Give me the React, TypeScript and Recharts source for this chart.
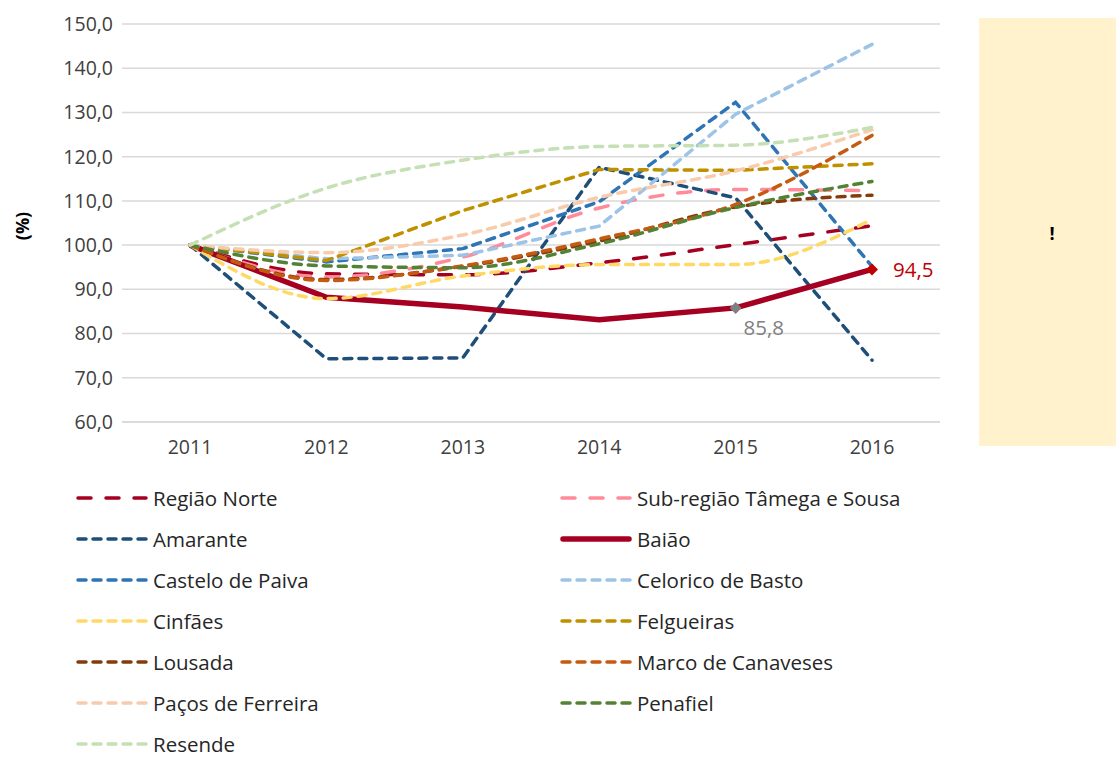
import React from "react";
import { LineChart, Line, XAxis, YAxis, CartesianGrid, LabelList } from "recharts";

const years = ["2011", "2012", "2013", "2014", "2015", "2016"];
const yTicks = [60, 70, 80, 90, 100, 110, 120, 130, 140, 150];

const regiaoNorte = [100, 93.5, 93.3, 96.0, 100.1, 104.4];
const subRegiao = [100, 92.8, 97.3, 108.4, 112.6, 112.3];
const amarante = [100, 74.3, 74.5, 117.6, 110.7, 74.0];
const baiao = [100, 88.2, 86.0, 83.1, 85.8, 94.5];
const casteloPaiva = [100, 96.2, 99.2, 109.8, 132.3, 95.2];
const celorico = [100, 96.9, 97.7, 104.3, 129.6, 145.4];
const cinfaes = [100, 87.9, 93.0, 95.6, 95.6, 105.8];
const felgueiras = [100, 96.5, 107.8, 117.1, 116.9, 118.4];
const lousada = [100, 92.2, 95.2, 100.9, 108.6, 111.3];
const marco = [100, 92.0, 95.3, 101.4, 109.2, 124.8];
const pacos = [100, 98.3, 102.3, 110.8, 116.8, 126.1];
const penafiel = [100, 95.3, 94.9, 100.3, 108.5, 114.4];
const resende = [100, 112.9, 119.2, 122.3, 122.6, 126.6];

const FONT = "'Open Sans', 'Noto Sans', sans-serif";
const LONG = "13 15";
const SHORT = "8 7";

type Series = {
  key: string;
  name: string;
  color: string;
  dash?: string;
  width: number;
  curve: "linear" | "monotone";
  values: number[];
};

const series: Series[] = [
  { key: "regiaoNorte", name: "Região Norte", color: "#A50021", dash: LONG, width: 3.5, curve: "monotone", values: regiaoNorte },
  { key: "subRegiao", name: "Sub-região Tâmega e Sousa", color: "#FF8A9A", dash: LONG, width: 3.5, curve: "monotone", values: subRegiao },
  { key: "amarante", name: "Amarante", color: "#1F4E79", dash: SHORT, width: 3.5, curve: "linear", values: amarante },
  { key: "baiao", name: "Baião", color: "#A50021", width: 5.5, curve: "linear", values: baiao },
  { key: "casteloPaiva", name: "Castelo de Paiva", color: "#2E75B6", dash: SHORT, width: 3.5, curve: "linear", values: casteloPaiva },
  { key: "celorico", name: "Celorico de Basto", color: "#9DC3E6", dash: SHORT, width: 3.5, curve: "linear", values: celorico },
  { key: "cinfaes", name: "Cinfães", color: "#FFD966", dash: SHORT, width: 3.5, curve: "monotone", values: cinfaes },
  { key: "felgueiras", name: "Felgueiras", color: "#BF9000", dash: SHORT, width: 3.5, curve: "linear", values: felgueiras },
  { key: "lousada", name: "Lousada", color: "#843C0C", dash: SHORT, width: 3.5, curve: "monotone", values: lousada },
  { key: "marco", name: "Marco de Canaveses", color: "#C55A11", dash: SHORT, width: 3.5, curve: "monotone", values: marco },
  { key: "pacos", name: "Paços de Ferreira", color: "#F8CBAD", dash: SHORT, width: 3.5, curve: "monotone", values: pacos },
  { key: "penafiel", name: "Penafiel", color: "#548235", dash: SHORT, width: 3.5, curve: "monotone", values: penafiel },
  { key: "resende", name: "Resende", color: "#C5E0B4", dash: SHORT, width: 3.5, curve: "monotone", values: resende },
];

const data = years.map((year, i) => {
  const row: Record<string, string | number> = { year };
  series.forEach((s) => {
    row[s.key] = s.values[i];
  });
  return row;
});

const fmt = (v: number) => v.toFixed(1).replace(".", ",");

// Baião has highlighted points for the last two years
const markColor = (index: number) => (index === 4 ? "#808080" : index === 5 ? "#C00000" : null);

const BaiaoDot = (props: any) => {
  const { cx, cy, index } = props;
  const c = markColor(index);
  if (!c || cx == null) return <g key={`d-${index}`} />;
  const r = 6;
  return (
    <path
      key={`d-${index}`}
      d={`M${cx},${cy - r} L${cx + r},${cy} L${cx},${cy + r} L${cx - r},${cy} Z`}
      fill={c}
    />
  );
};

const BaiaoLabel = (props: any) => {
  const { x, y, value, index } = props;
  const c = markColor(index);
  if (!c) return null;
  const right = index === 5;
  return (
    <text
      x={right ? x + 21 : x + 8}
      y={right ? y + 8 : y + 27}
      fill={c}
      fontSize={20.5}
      fontFamily={FONT}
      textAnchor="start"
    >
      {fmt(value)}
    </text>
  );
};

export default function App() {
  return (
    <div style={{ position: "absolute", left: 0, top: 0, width: 1116, height: 757, background: "#fff", fontFamily: FONT, overflow: "hidden" }}>
      <LineChart width={1116} height={460} data={data} margin={{ top: 24, right: 176, left: 62, bottom: 8 }}>
        <CartesianGrid vertical={false} stroke="#D9D9D9" strokeWidth={1.5} />
        <XAxis
          dataKey="year"
          padding={{ left: 68, right: 68 }}
          axisLine={{ stroke: "#D9D9D9", strokeWidth: 1.5 }}
          tickLine={false}
          tickSize={0}
          tickMargin={18}
          tick={{ fill: "#404040", fontSize: 19.5, fontFamily: FONT }}
        />
        <YAxis
          width={60}
          domain={[60, 150]}
          ticks={yTicks}
          axisLine={false}
          tickLine={false}
          tickSize={0}
          tickMargin={9}
          tickFormatter={fmt}
          tick={{ fill: "#404040", fontSize: 19.5, fontFamily: FONT }}
        />
        {series.map((s) =>
          s.key === "baiao" ? (
            <Line
              key={s.key}
              dataKey={s.key}
              name={s.name}
              type={s.curve}
              stroke={s.color}
              strokeWidth={s.width}
              dot={BaiaoDot}
              activeDot={false}
              isAnimationActive={false}
            >
              <LabelList dataKey={s.key} content={BaiaoLabel} />
            </Line>
          ) : (
            <Line
              key={s.key}
              dataKey={s.key}
              name={s.name}
              type={s.curve}
              stroke={s.color}
              strokeWidth={s.width}
              strokeDasharray={s.dash}
              strokeLinecap="round"
              dot={false}
              activeDot={false}
              isAnimationActive={false}
            />
          )
        )}
      </LineChart>

      <div
        style={{
          position: "absolute",
          left: 22 - 20,
          top: 226 - 12,
          width: 40,
          height: 24,
          transform: "rotate(-90deg)",
          textAlign: "center",
          fontWeight: 700,
          fontSize: 18,
          lineHeight: "24px",
          color: "#000",
        }}
      >
        (%)
      </div>

      <div
        style={{
          position: "absolute",
          left: 979,
          top: 18,
          width: 137,
          height: 428,
          background: "#FFF2CC",
        }}
      >
        <div
          style={{
            position: "absolute",
            left: 73 - 10,
            top: 215 - 12,
            width: 20,
            height: 24,
            lineHeight: "24px",
            textAlign: "center",
            fontWeight: 700,
            fontSize: 18,
            color: "#000",
          }}
        >
          !
        </div>
      </div>

      {series.map((s, i) => {
        const col = i % 2;
        const row = Math.floor(i / 2);
        const left = col === 0 ? 76 : 560;
        const top = 497.5 + row * 41 - 10;
        return (
          <div
            key={s.key}
            style={{ position: "absolute", left, top, height: 20, display: "flex", alignItems: "center" }}
          >
            <svg width={72} height={10} style={{ display: "block" }}>
              <line
                x1={s.dash ? 2 : 3}
                y1={5}
                x2={s.dash ? 70 : 69}
                y2={5}
                stroke={s.color}
                strokeWidth={s.dash ? 3.5 : 5.5}
                strokeDasharray={s.dash}
                strokeLinecap="round"
              />
            </svg>
            <span style={{ marginLeft: 5, fontSize: 20.5, lineHeight: "20px", color: "#262626", whiteSpace: "nowrap" }}>
              {s.name}
            </span>
          </div>
        );
      })}
    </div>
  );
}
